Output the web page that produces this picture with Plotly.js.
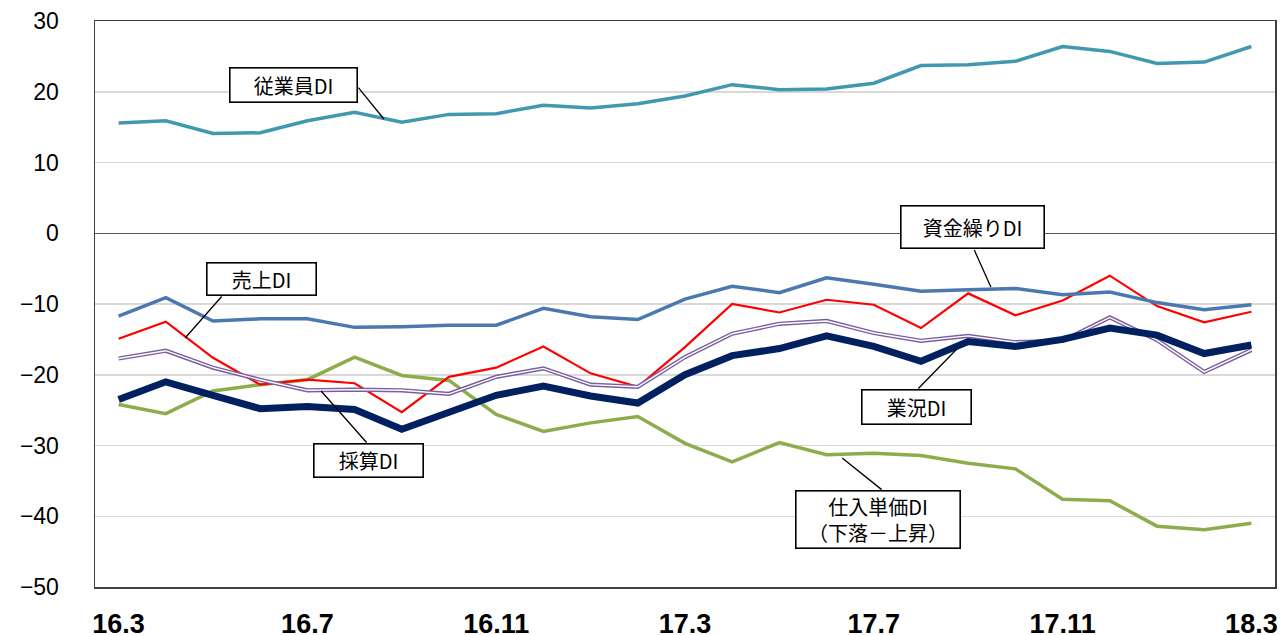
<!DOCTYPE html>
<html>
<head>
<meta charset="utf-8">
<script src="https://cdn.plot.ly/plotly-3.0.1.min.js"></script>
<style>
html,body{margin:0;padding:0;background:#fff;}
#chart{width:1282px;height:635px;}
</style>
</head>
<body>
<div id="chart"></div>
<script>
// months (year.month)
const months = ['16.3','16.4','16.5','16.6','16.7','16.8','16.9','16.10','16.11','16.12','17.1','17.2',
                '17.3','17.4','17.5','17.6','17.7','17.8','17.9','17.10','17.11','17.12','18.1','18.2','18.3'];
const tickMonths = ['16.3','16.7','16.11','17.3','17.7','17.11','18.3'];

// series values (DI)
const employeeDI = [15.6,15.9,14.1,14.2,15.9,17.1,15.7,16.8,16.9,18.1,17.7,18.3,
                    19.4,21.0,20.3,20.4,21.2,23.7,23.8,24.3,26.4,25.7,24.0,24.2,26.4];
const fundingDI  = [-11.7,-9.1,-12.4,-12.1,-12.1,-13.3,-13.2,-13.0,-13.0,-10.6,-11.8,-12.2,
                    -9.3,-7.5,-8.4,-6.3,-7.2,-8.2,-8.0,-7.8,-8.7,-8.3,-9.8,-10.8,-10.1];
const salesDI    = [-14.9,-12.5,-17.6,-21.4,-20.7,-21.2,-25.3,-20.3,-19.0,-16.0,-19.8,-21.7,
                    -16.1,-10.0,-11.2,-9.4,-10.1,-13.4,-8.5,-11.6,-9.5,-6.0,-10.3,-12.6,-11.1];
const profitDI   = [-17.7,-16.6,-19.0,-20.7,-22.2,-22.1,-22.2,-22.7,-20.3,-19.1,-21.4,-21.7,
                    -17.5,-14.2,-12.8,-12.4,-14.1,-15.2,-14.5,-15.4,-15.2,-11.9,-15.1,-19.6,-16.5];
const businessDI = [-23.5,-21.0,-22.9,-24.8,-24.5,-24.9,-27.7,-25.3,-22.9,-21.6,-23.0,-24.0,
                    -20.0,-17.3,-16.3,-14.5,-16.0,-18.1,-15.3,-16.0,-15.0,-13.4,-14.4,-17.0,-15.8];
const purchaseDI = [-24.2,-25.5,-22.3,-21.4,-20.7,-17.5,-20.1,-20.8,-25.6,-28.0,-26.8,-25.9,
                    -29.7,-32.3,-29.6,-31.3,-31.1,-31.4,-32.5,-33.3,-37.6,-37.8,-41.4,-41.9,-41.0];

const yTicks = [30,20,10,0,-10,-20,-30,-40,-50];
const yTickText = yTicks.map(v => v < 0 ? '\u2212' + Math.abs(v) : String(v));

function line(y, color, width, name){
  return {x: months, y: y, type:'scatter', mode:'lines', name: name,
          line:{color: color, width: width}, hoverinfo:'skip'};
}

const traces = [
  line(purchaseDI, '#8DAD4C', 3.5, '仕入単価DI'),
  line(salesDI, '#FF0000', 2.2, '売上DI'),
  line(fundingDI, '#4A78AF', 3.5, '資金繰りDI'),
  line(employeeDI, '#4199AF', 3.5, '従業員DI'),
  line(profitDI, '#7A5E9E', 4.2, '採算DI'),
  line(profitDI, '#FFFFFF', 1.4, '採算DI_inner'),
  line(businessDI, '#002060', 7, '業況DI')
];

const boxFont = {family: '"Noto Sans CJK JP", "Noto Sans", sans-serif', size: 20, color: '#000'};
function box(text, x, y, w, h){
  return {text: text, x: x, y: y, xref:'x', yref:'y', showarrow:false,
          width: w, height: h, bgcolor:'#fff', bordercolor:'#000', borderwidth:1.6, borderpad:0,
          font: boxFont, align:'center', valign:'middle'};
}
function leader(x, y, ax, ay){
  return {text:' ', x: x, y: y, xref:'x', yref:'y', showarrow:true, arrowhead:0,
          arrowwidth:1.3, arrowcolor:'#000', ax: ax, ay: ay, font:{size:1}, borderpad:0,
          standoff:0, startstandoff:0};
}

const annotations = [
  box('従業員DI', 3.705, 20.95, 126, 33),
  leader(5.62, 16.15, -26, -32),
  box('売上DI', 3.027, -6.47, 108, 31),
  leader(1.41, -14.8, 37, -42),
  box('採算DI', 5.294, -32.12, 108, 32),
  leader(4.29, -22.3, 46, 52),
  box('資金繰りDI', 18.09, 0.88, 142, 41),
  leader(18.48, -7.6, -17, -38),
  box('業況DI', 16.90, -24.56, 108, 33),
  leader(17.76, -16.36, -39, 40),
  box('仕入単価DI<br>（下落－上昇）', 16.09, -40.46, 163, 56),
  leader(15.33, -31.77, 40, 32)
];

const layout = {
  width:1282, height:635,
  margin:{l:95, r:7, t:21, b:48},
  paper_bgcolor:'#fff', plot_bgcolor:'#fff',
  showlegend:false,
  xaxis:{
    type:'category', range:[-0.5, 24.5],
    tickvals: tickMonths, ticktext: tickMonths,
    tickfont:{family:'"Liberation Sans", Arial, sans-serif', size:27, color:'#000', weight:'bold'},
    ticks:'', ticklabelstandoff: 12,
    showgrid:false, zeroline:false,
    showline:true, linecolor:'#404040', linewidth:1.5, mirror:true
  },
  yaxis:{
    range:[-50, 30], tickvals: yTicks, ticktext: yTickText,
    tickfont:{family:'"Liberation Sans", Arial, sans-serif', size:23, color:'#000'},
    ticks:'', ticklabelstandoff: 30,
    showgrid:true, gridcolor:'#D9D9D9', gridwidth:1.5,
    zeroline:true, zerolinecolor:'#595959', zerolinewidth:1.5,
    showline:true, linecolor:'#404040', linewidth:1.5, mirror:true
  },
  annotations: annotations
};

Plotly.newPlot('chart', traces, layout, {staticPlot:true, displayModeBar:false});
</script>
</body>
</html>
